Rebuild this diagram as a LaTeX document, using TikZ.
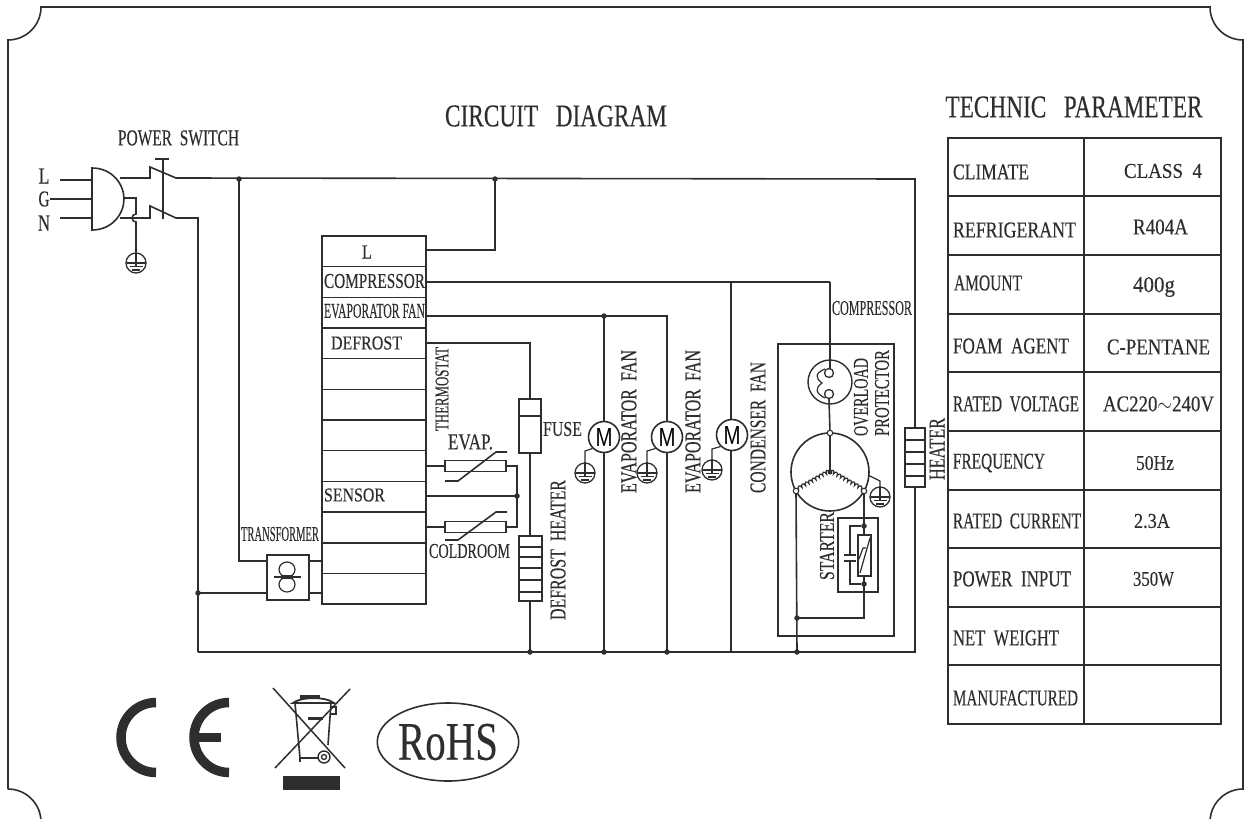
\documentclass[tikz,border=0pt]{standalone}
\usepackage{fontspec}
\usepackage{graphicx}
\setmainfont[FakeBold=0.3]{Liberation Serif}
\newfontfamily\motorfont{Liberation Sans}
\usetikzlibrary{calc,decorations.pathmorphing,shapes.geometric}
\definecolor{ink}{HTML}{2E2E2E}
\tikzset{
  wire/.style={draw=ink,line width=1.6pt,line join=miter},
  thin wire/.style={draw=ink,line width=1.2pt},
  box/.style={draw=ink,line width=1.6pt,fill=white,inner sep=0pt,outer sep=0pt,rectangle},
  dot/.style={circle,fill=ink,inner sep=0pt,minimum size=5.5pt},
  opendot/.style={circle,draw=ink,line width=1.1pt,fill=white,inner sep=0pt,minimum size=5.5pt},
  earthring/.style={circle,draw=ink,line width=1.3pt,fill=white,inner sep=0pt,minimum size=20pt},
  motor/.style={circle,draw=ink,line width=1.6pt,fill=white,inner sep=0pt,minimum size=31pt},
  lab/.style={inner sep=0pt,outer sep=0pt,text=ink},
}
% name, x, y, width, height, text
\newcommand{\lbl}[6]{\node[lab] (#1) at (#2,#3) {\resizebox{#4pt}{#5pt}{#6}};}
\newcommand{\vlbl}[6]{\node[lab,rotate=90] (#1) at (#2,#3) {\resizebox{#4pt}{#5pt}{#6}};}
\newcommand{\earthsym}[3]{%
  \node[earthring] (#1) at (#2,#3) {};
  \draw[thin wire] (#1.north) -- ($(#1.center)+(0,4)$);
  \draw[thin wire] ($(#1.center)+(-9.5,0)$) -- ($(#1.center)+(9.5,0)$);
  \draw[thin wire] ($(#1.center)+(-6.5,3.5)$) -- ($(#1.center)+(6.5,3.5)$);
  \draw[thin wire] ($(#1.center)+(-4,7)$) -- ($(#1.center)+(4,7)$);
}
\begin{document}
\begin{tikzpicture}[x=1pt,y=-1pt]
\useasboundingbox (0,0) rectangle (1245,819);
% ---------- outer plate
\draw[wire] (8,789) -- (8,40) arc[start angle=90,end angle=0,radius=33] -- (1210,7)
  arc[start angle=180,end angle=90,radius=33] -- (1243,789)
  arc[start angle=270,end angle=185,radius=33];
\draw[wire] (8,789) arc[start angle=270,end angle=355,radius=33];

% ---------- titles
\lbl{tcircuit}{556}{116}{222}{21}{CIRCUIT~~~DIAGRAM}
\lbl{ttechnic}{1074}{107}{257}{21}{TECHNIC~~~PARAMETER}
\lbl{tpower}{178.5}{138}{121}{15}{POWER~~SWITCH}
\lbl{tL}{44}{176}{11}{15}{L}
\lbl{tG}{44}{199}{11}{15}{G}
\lbl{tN}{44}{223}{12}{15}{N}

% ---------- junction coordinates
\coordinate (jtop) at (239,179);
\coordinate (jtopL) at (495,179);
\coordinate (jright) at (915,179);
\coordinate (jbl) at (198,652);
\coordinate (jbr) at (915,652);
\coordinate (jn) at (198,593);
\coordinate (jdef) at (530,652);
\coordinate (jf1) at (604,652);
\coordinate (jf2) at (667,652);
\coordinate (jf3) at (731,652);
\coordinate (jc) at (797,652);
\coordinate (jcr) at (797,618);
\coordinate (evapE) at (604,316);
\coordinate (evapR) at (667,316);
\coordinate (compT) at (731,282);
\coordinate (compR) at (830,282);

% ---------- controller rows
\foreach \i in {1,...,12}
  \node[box,minimum width=104pt,minimum height=30.67pt] (r\i) at (374,{236+30.67*(\i-0.5)}) {};
\coordinate (oL) at (426,250);
\coordinate (oC) at (426,282);
\coordinate (oE) at (426,316);
\coordinate (oD) at (426,343);
\coordinate (oS1) at (426,466);
\coordinate (oS2) at (426,496);
\coordinate (oS3) at (426,527);
\coordinate (iT1) at (322,561);
\coordinate (iT2) at (322,593);
\lbl{cL}{367}{252}{10}{13}{L}
\lbl{cC}{374.5}{281}{101}{14}{COMPRESSOR}
\lbl{cE}{374.5}{311}{101}{14}{EVAPORATOR~FAN}
\lbl{cD}{366.5}{343}{71}{13}{DEFROST}
\lbl{cS}{354.5}{495}{61}{13}{SENSOR}

% ---------- power section
\draw[wire] (60,180) -- (92,180);
\draw[wire] (50,199) -- (92,199);
\draw[wire] (60,218) -- (92,218);
\draw[wire] (120,178) -- (150,178) -- (150,167) -- (176,178) -- (jright) -- (jbr) -- (jbl);
\draw[wire] (120,218) -- (150,218) -- (150,206) -- (176,218) -- (198,218) -- (jbl);
\draw[wire] (163,159) -- (163,219);
\draw[wire] (155,159) -- (169,159);
\draw[wire,fill=white] (92,168) .. controls (112,168) and (124,184) .. (124,199)
  .. controls (124,214) and (112,230) .. (92,230) -- cycle;
\draw[wire] (124,198) -- (136,198) -- (136,214) arc[start angle=270,end angle=90,radius=4] -- (136,253);
\earthsym{eplug}{136}{263}

% ---------- supply wires
\draw[wire] (jtop) -- (239,561) -- (267,561);
\draw[wire] (jn) -- (267,593);
\draw[wire] (oL) -- (495,250) -- (jtopL);
\draw[wire] (oC) -- (compR);
\draw[wire] (compT) -- (jf3);
\draw[wire] (oE) -- (evapR) -- (jf2);
\draw[wire] (evapE) -- (jf1);
\draw[wire] (oD) -- (530,343) -- (jdef);

% ---------- transformer
\node[box,minimum width=42pt,minimum height=45pt] (xfmr) at (288,577.5) {};
\draw[wire] (309,561) -- (iT1);
\draw[wire] (309,593) -- (iT2);
\draw[thin wire] (287,569.5) ellipse[x radius=8,y radius=7.5];
\draw[thin wire] (287,584.5) ellipse[x radius=8,y radius=7.5];
\draw[wire] (274,577) -- (301,577);
\fill[ink] (281,575) rectangle (293,579);
\lbl{ttr}{280}{534}{78}{14}{TRANSFORMER}

% ---------- sensors
\draw[wire] (oS1) -- (445,466);
\draw[wire] (oS3) -- (445,527);
\draw[wire] (oS2) -- (517,496);
\draw[wire] (506,466) -- (517,466) -- (517,527) -- (506,527);
\node[box,minimum width=61pt,minimum height=11pt] (sev) at (475.5,466) {};
\node[box,minimum width=61pt,minimum height=11pt] (sco) at (475.5,527) {};
\draw[wire] (445,481) -- (458,481) -- (496,452) -- (507,452);
\draw[wire] (445,540) -- (458,540) -- (496,512) -- (507,512);
\node[dot] (ds) at (517,496) {};
\lbl{tev}{470.5}{442}{45}{15}{EVAP.}
\lbl{tco}{469.5}{551}{81}{14}{COLDROOM}
\vlbl{tth}{442}{389}{84}{13}{THERMOSTAT}

% ---------- fuse and defrost heater
\node[box,minimum width=22pt,minimum height=54pt] (fuse) at (530,426) {};
\draw[wire] (fuse.west |- 0,416) -- (fuse.east |- 0,416);
\lbl{tfu}{562.5}{429}{39}{14}{FUSE}
\node[box,minimum width=23pt,minimum height=65pt] (dheat) at (530.5,568.5) {};
\foreach \yy in {547,557,568,580,592}
  \draw[wire] (dheat.west |- 0,\yy) -- (dheat.east |- 0,\yy);
\vlbl{tdh}{558}{550}{140}{15}{DEFROST~~HEATER}

% ---------- fan motors
\node[motor] (m1) at (604,437) {\motorfont\resizebox{17pt}{18pt}{M}};
\node[motor] (m2) at (667,437) {\motorfont\resizebox{17pt}{18pt}{M}};
\node[motor] (m3) at (732,435) {\motorfont\resizebox{17pt}{18pt}{M}};
\earthsym{e1}{585}{473}
\earthsym{e2}{647}{473}
\earthsym{e3}{712}{470}
\draw[thin wire] (m1.south west) -- (e1.north |- 0,451) -- (e1.north);
\draw[thin wire] (m2.south west) -- (e2.north |- 0,451) -- (e2.north);
\draw[thin wire] (m3.south west) -- (e3.north |- 0,449) -- (e3.north);
\vlbl{tf1}{629}{421.5}{143}{15}{EVAPORATOR~~FAN}
\vlbl{tf2}{693}{421.5}{143}{15}{EVAPORATOR~~FAN}
\vlbl{tf3}{758}{427.5}{131}{15}{CONDENSER~~FAN}

% ---------- compressor
\draw[wire] (778,344) rectangle (894,636);
\lbl{tcomp}{872}{308}{80}{14}{COMPRESSOR}
\vlbl{tol}{861}{397}{78}{14}{OVERLOAD}
\vlbl{tpr}{882}{393}{86}{14}{PROTECTOR}
\vlbl{tst}{827}{546}{68}{14}{STARTER}
% overload protector
\node[circle,draw=ink,line width=1.4pt,fill=white,inner sep=0pt,minimum size=44pt] (ovl) at (830,382) {};
\draw[wire] (compR) -- (830,369);
\node[circle,draw=ink,line width=1.3pt,inner sep=0pt,minimum size=9pt] (o1) at (829,373) {};
\node[circle,draw=ink,line width=1.3pt,inner sep=0pt,minimum size=9pt] (o2) at (829,394) {};
\draw[thin wire] (825,369) .. controls (815,373) and (815,378) .. (822,383) .. controls (815,388) and (815,393) .. (825,398);
\draw[wire] (o2.south) -- (830,433);
% motor windings
\node[circle,draw=ink,line width=1.6pt,inner sep=0pt,minimum size=78pt] (mot) at (830,472) {};
\draw[wire] (830,433) -- (mot.center);
\draw[thin wire,decorate,decoration={bumps,segment length=8pt,amplitude=3pt,mirror}] (mot.center) -- (796,491);
\draw[thin wire,decorate,decoration={bumps,segment length=8pt,amplitude=3pt}] (mot.center) -- (864,491);
\node[dot,minimum size=5pt] (mc) at (830,472) {};
\node[earthring] (ec) at (880,497) {};
\draw[thin wire] (868,475) -- (880,481) -- (ec.north);
\draw[thin wire] (ec.north) -- (880,501);
\draw[thin wire] (870.5,497) -- (889.5,497);
\draw[thin wire] (873.5,500.5) -- (886.5,500.5);
\draw[thin wire] (876,504) -- (884,504);
% starter
\draw[wire] (838,518) rectangle (878,592);
\coordinate (w1) at (796,491);
\coordinate (w2) at (864,491);
\draw[wire] (w2) -- (864,618) -- (jcr);
\draw[wire] (w1) -- (jc);
\node[box,minimum width=13pt,minimum height=41pt] (ptc) at (864.5,555.5) {};
\draw[thin wire] (860,573) -- (870,538);
\draw[thin wire] (859,559) -- (863,548) -- (866,548);
\node[dot] (d1) at (864,526) {};
\node[dot] (d2) at (864,584) {};
\draw[wire] (d1) -- (850,526) -- (850,555);
\draw[wire] (d2) -- (850,584) -- (850,561);
\draw[wire] (844,555) -- (856,555);
\draw[wire] (844,561) -- (856,561);
\node[opendot] (ow1) at (w1) {};
\node[opendot] (ow2) at (w2) {};
\node[opendot] (ow3) at (830,433) {};
\node[dot] (d3) at (jcr) {};

% ---------- door heater
\node[box,minimum width=20pt,minimum height=59pt] (heat) at (915,457.5) {};
\foreach \yy in {440,452,464,476}
  \draw[wire] (heat.west |- 0,\yy) -- (heat.east |- 0,\yy);
\vlbl{the}{937}{449}{62}{15}{HEATER}

% ---------- junction dots
\foreach \p in {jtop,jtopL,evapE,jdef,jf1,jf2,jc,jn}
  \node[dot] at (\p) {};

% ---------- parameter table
\foreach \r/\yy/\hh in {1/138/58,2/196/59,3/255/59,4/314/58,5/372/59,6/431/59,7/490/58,8/548/59,9/607/58,10/665/59}{
  \node[box,minimum width=136pt,minimum height=\hh pt,anchor=north west] (a\r) at (948,\yy) {};
  \node[box,minimum width=137pt,minimum height=\hh pt,anchor=north west] (b\r) at (1084,\yy) {};
}
\lbl{p1}{991}{172}{76}{15}{CLIMATE}
\lbl{v1}{1163}{171}{78}{14}{CLASS~~4}
\lbl{p2}{1014.5}{230}{123}{15}{REFRIGERANT}
\lbl{v2}{1160.5}{227}{55}{15}{R404A}
\lbl{p3}{988}{283}{68}{15}{AMOUNT}
\lbl{v3}{1154}{287}{42}{15}{400g}
\lbl{p4}{1011}{346}{116}{15}{FOAM~~AGENT}
\lbl{v4}{1158.5}{347}{103}{15}{C-PENTANE}
\lbl{p5}{1016}{404}{126}{15}{RATED~~VOLTAGE}
\lbl{v5}{1158.5}{404}{111}{15}{AC220$\sim$240V}
\lbl{p6}{999}{463}{92}{15}{FREQUENCY}
\lbl{v6}{1155}{463}{38}{14}{50Hz}
\lbl{p7}{1017}{521}{128}{15}{RATED~~CURRENT}
\lbl{v7}{1152}{521}{36}{14}{2.3A}
\lbl{p8}{1012}{579}{118}{15}{POWER~~INPUT}
\lbl{v8}{1153.5}{579}{41}{14}{350W}
\lbl{p9}{1006}{638}{106}{15}{NET~~WEIGHT}
\lbl{p10}{1015.5}{698}{125}{15}{MANUFACTURED}

% ---------- marks
\draw[ink,line width=9.5pt] (156,702.5) arc[start angle=270,end angle=90,radius=35];
\draw[ink,line width=9.5pt] (229,702.5) arc[start angle=270,end angle=90,radius=35];
\fill[ink] (190,732.5) rectangle (221,741.5);
% crossed-out bin
\draw[ink,line width=1.5pt] (273,688) -- (345,768);
\draw[ink,line width=1.5pt] (350,689) -- (275,768);
\fill[ink] (283,776) rectangle (340,790);
\draw[ink,line width=1.6pt] (295,703) -- (300,758) -- (318,758);
\draw[ink,line width=1.6pt] (331,703) -- (328,745);
\draw[ink,line width=1.8pt] (293,703) .. controls (300,697) and (325,696) .. (334,703) -- cycle;
\fill[ink] (300,695) rectangle (320,699);
\draw[ink,line width=1.3pt] (331,707) -- (336,707) -- (336,714) -- (330,714);
\fill[ink] (308,717) rectangle (323,720);
\draw[ink,line width=1.4pt,fill=white] (324,757) circle[radius=6];
\draw[ink,line width=1.3pt] (324,757) circle[radius=2.5];
\draw[ink,line width=2pt] (300,758) -- (300,762);
% RoHS
\node[ellipse,draw=ink,line width=1.6pt,inner sep=0pt,minimum width=138pt,minimum height=78pt,text=ink] (rohs) at (448,742) {\resizebox{100pt}{36pt}{RoHS}};
\end{tikzpicture}
\end{document}
